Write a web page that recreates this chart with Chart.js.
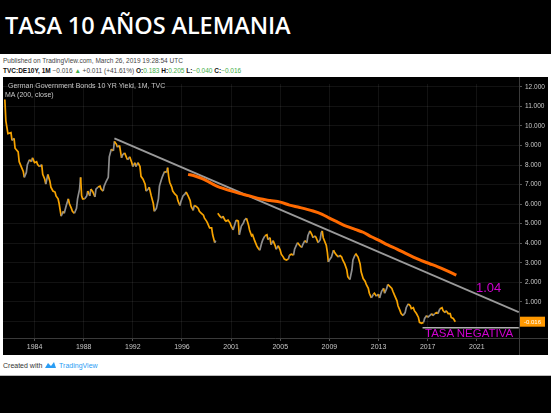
<!DOCTYPE html>
<html>
<head>
<meta charset="utf-8">
<script src="https://cdn.jsdelivr.net/npm/chart.js@4.4.1/dist/chart.umd.min.js"></script>
<style>
  html,body{margin:0;padding:0;background:#000;width:551px;height:413px;overflow:hidden;}
  .abs{position:absolute;white-space:nowrap;}
  #title{left:5px;top:9px;color:#fff;font-family:"Open Sans",sans-serif;font-size:23.5px;font-weight:600;letter-spacing:-0.1px;line-height:normal;}
  #panel{left:0;top:54px;width:551px;height:321px;background:#fff;border-bottom:1px solid #bbb;}
  .small{font-family:"Liberation Sans",Arial,sans-serif;font-size:6.5px;color:#444;}
  #box{left:3px;top:77px;width:545px;height:278px;background:#000;}
  .leg{font-family:"Liberation Sans",Arial,sans-serif;font-size:7px;color:#c8c8c8;}
  .mag{font-family:"Liberation Sans",Arial,sans-serif;color:#d000d0;}
  .g{color:#3fae49;}
  .b{color:#111;font-weight:bold;}
</style>
</head>
<body>
<div id="title" class="abs">TASA 10 AÑOS ALEMANIA</div>
<div id="panel" class="abs"></div>
<div class="abs small" style="left:3px;top:57px;">Published on TradingView.com, March 26, 2019 19:28:54 UTC</div>
<div class="abs small" style="left:3px;top:67px;"><span class="b">TVC:DE10Y, 1M</span> −0.016 <span class="g">▲</span> +0.011 (+41.61%) <span class="b">O:</span><span class="g">0.183</span> <span class="b">H:</span><span class="g">0.205</span> <span class="b">L:</span><span class="g">−0.040</span> <span class="b">C:</span><span class="g">−0.016</span></div>
<div id="box" class="abs"><canvas id="c" width="545" height="278"></canvas></div>
<div class="abs leg" style="left:8px;top:82px;">German Government Bonds 10 YR Yield, 1M, TVC</div>
<div class="abs leg" style="left:5px;top:91px;">MA (200, close)</div>
<div class="abs mag" style="left:476px;top:280px;font-size:13px;">1.04</div>
<div class="abs mag" style="left:425px;top:327px;font-size:11.5px;">TASA NEGATIVA</div>
<div class="abs small" style="left:3px;top:361px;font-size:7px;color:#333;">Created with <svg width="13" height="8" viewBox="0 0 13 8" style="vertical-align:-1px"><path d="M1 7 L4 2 L7 5 L10 1 L12 7 Z" fill="#2a9df4"/></svg> <span style="color:#2a9df4;">TradingView</span></div>
<script>
const tickMonths = [0,48,96,144,192,240,288,336,384,432];
const tickYears  = ['1984','1988','1992','1996','2001','2005','2009','2013','2017','2021'];
const priceTicks = [0,1,2,3,4,5,6,7,8,9,10,11,12];

const priceMonths = [-29,-28,-26,-23,-22,-20,-19,-16,-15,-13,-11,-10,-8,-7,-5,-3,-2,0,2,3,5,7,8,10,11,13,15,16,18,20,21,23,24,26,28,29,31,33,34,36,37,39,41,42,44,45,46,47,49,51,52,54,55,57,59,60,62,64,65,67,68,70,72,73,75,77,78,80,81,83,85,86,88,90,91,93,95,96,98,99,101,103,104,106,108,109,111,112,114,116,117,119,121,122,124,125,127,129,130,131,132,134,135,137,139,140,142,143,145,147,148,150,152,153,155,156,158,160,161,163,165,166,168,169,171,173,174,176,177,178,179,181,183,184,186,187,189,191,192,194,196,197,199,200,202,204,205,207,209,210,212,213,215,217,218,220,222,223,225,227,228,230,231,233,235,236,238,240,241,243,244,246,248,249,251,253,254,256,257,259,261,262,264,266,267,269,271,272,274,275,277,279,280,281,282,285,286,287,288,290,292,293,295,297,298,300,301,303,305,306,308,310,311,313,314,316,318,319,321,323,324,326,327,329,331,332,334,336,337,339,341,342,344,345,347,349,350,352,354,355,357,358,360,362,363,365,367,368,370,371,373,375,376,378,380,381,383,384,386,388,389,391,393,394,396,398,399,401,402,404,406,407,409,411];
const priceYields = [11.35,10.26,9.61,9.66,9.26,9.36,8.86,8.67,8.17,7.92,7.67,7.37,7.62,8.02,8.27,8.17,8.37,8.12,8.17,8.02,7.92,8.02,7.52,7.27,7.02,7.52,7.17,6.87,6.67,6.62,6.42,6.27,6.03,5.38,5.63,5.53,5.93,6.27,6.03,5.78,5.63,5.53,5.78,6.27,6.77,7.37,6.42,6.27,6.27,6.42,6.67,6.42,6.77,6.62,6.37,6.77,6.87,6.92,6.77,6.67,6.92,7.17,7.37,8.42,8.81,8.72,9.21,9.06,8.91,9.01,8.37,8.52,8.62,8.37,8.27,8.42,8.12,7.92,8.12,7.92,8.12,7.92,7.42,7.27,7.02,6.67,6.77,6.87,6.42,6.03,5.63,5.78,6.27,6.92,7.27,7.42,7.67,7.62,7.87,7.42,7.12,6.87,6.67,6.52,6.42,6.18,5.93,6.13,6.42,6.52,6.62,6.42,6.18,5.88,5.68,5.93,5.88,5.78,5.63,5.53,5.43,5.28,5.13,5.03,4.78,4.78,4.43,4.03,4.13,null,5.53,5.38,5.28,5.38,5.18,5.13,5.18,5.03,4.88,4.68,5.03,5.18,5.13,4.43,4.88,5.03,5.18,5.28,4.93,4.68,4.38,4.43,4.13,3.88,3.78,3.64,4.03,4.18,4.38,4.43,4.18,4.28,3.93,4.13,3.88,3.69,3.88,3.64,3.44,3.29,3.19,3.14,3.19,3.39,3.44,3.39,3.69,3.93,4.03,3.88,3.78,3.93,4.13,4.03,4.38,4.63,4.43,4.28,4.38,4.28,4.03,4.18,4.53,4.63,4.28,3.88,3.54,3.04,3.14,3.29,3.64,3.54,3.39,3.29,3.39,3.29,3.14,2.94,2.64,2.29,2.14,2.64,3.14,3.39,3.44,3.29,2.94,2.54,2.19,2.04,1.89,1.69,1.44,1.20,1.39,1.44,1.29,1.39,1.20,1.54,1.69,1.44,1.69,1.89,1.79,1.69,1.54,1.29,1.05,0.80,0.55,0.40,0.30,0.45,0.70,0.90,0.80,0.65,0.70,0.55,0.40,0.20,-0.05,-0.10,-0.05,0.15,0.30,0.20,0.30,0.40,0.30,0.40,0.45,0.40,0.65,0.70,0.55,0.45,0.55,0.40,0.40,0.20,0.15,-0.016];

const maMonths = [150,156,161,166,171,176,181,191,200,210,220,230,240,249,259,272,281,288,296,305,313,321,329,337,345,354,362,370,378,386,394,402,412];
const maValues = [7.52,7.45,7.36,7.25,7.11,6.97,6.86,6.69,6.55,6.42,6.27,6.18,6.10,5.95,5.83,5.65,5.48,5.28,5.08,4.86,4.71,4.56,4.33,4.13,3.91,3.70,3.49,3.29,3.11,2.95,2.79,2.61,2.37];

const trendMonths = [78,473];
const trendValues = [9.36,0.47];
const negMonths = [379,473];
const negValues = [-0.32,-0.32];
const lastLabel = '-0.016';

const pts = (xs, ys) => xs.map((x,i)=>({x, y: ys[i]}));

const frame = {
  id:'frame',
  afterDraw(chart){
    const {ctx, chartArea:a, width, height} = chart;
    ctx.save();
    ctx.strokeStyle = '#3a3a3a'; ctx.lineWidth = 1;
    ctx.beginPath();
    ctx.moveTo(0, Math.round(a.bottom)+0.5); ctx.lineTo(width, Math.round(a.bottom)+0.5);
    ctx.moveTo(Math.round(a.right)+0.5, 0); ctx.lineTo(Math.round(a.right)+0.5, height);
    ctx.stroke();
    const y = chart.scales.y.getPixelForValue(priceYields[priceYields.length-1]);
    ctx.fillStyle = '#ff9800';
    ctx.fillRect(a.right+1, y-5, 25, 10);
    ctx.fillStyle = '#fff';
    ctx.font = '6px "Liberation Sans", Arial, sans-serif';
    ctx.textAlign = 'center'; ctx.textBaseline = 'middle';
    ctx.fillText(lastLabel, a.right+13.5, y+0.5);
    ctx.restore();
  }
};

new Chart(document.getElementById('c'), {
  type:'line',
  data:{ datasets:[
    { data: pts(negMonths, negValues), borderColor:'#b0b0b0', borderWidth:1.5, pointRadius:0, order:4 },
    { data: pts(trendMonths, trendValues), borderColor:'#9a9a9a', borderWidth:2, pointRadius:0, order:3 },
    { data: pts(maMonths, maValues), borderColor:'#ff6a00', borderWidth:3, pointRadius:0, tension:0.3, order:2 },
    { data: pts(priceMonths, priceYields), borderColor:'#f7a300', borderWidth:1.7, pointRadius:0, spanGaps:false, order:1,
      segment:{ borderColor: c => (c.p1.parsed.y > c.p0.parsed.y + 0.05 ? '#8e8e8e' : '#f7a300') } }
  ]},
  options:{
    responsive:false, animation:false, devicePixelRatio:1,
    layout:{ padding:0 },
    plugins:{ legend:{display:false}, tooltip:{enabled:false} },
    scales:{
      x:{ type:'linear', position:'bottom', min:-30.8, max:473.2,
        afterBuildTicks: s => { s.ticks = tickMonths.map(v=>({value:v})); },
        afterFit: s => { s.height = 17; },
        ticks:{ autoSkip:false, maxRotation:0, padding:2, color:'#c8c8c8',
          font:{ family:'"Liberation Sans", Arial, sans-serif', size:7 },
          callback: v => tickYears[tickMonths.indexOf(v)] },
        grid:{ color:'rgba(255,255,255,0.07)', tickColor:'#555', tickLength:3 },
        border:{ display:false } },
      y:{ type:'linear', position:'right', min:-0.85, max:12.15,
        afterBuildTicks: s => { s.ticks = priceTicks.map(v=>({value:v})); },
        afterFit: s => { s.width = 29; },
        ticks:{ padding:3, color:'#c8c8c8',
          font:{ family:'"Liberation Sans", Arial, sans-serif', size:6.5 },
          callback: v => v.toFixed(3) },
        grid:{ color:'rgba(255,255,255,0.07)', tickColor:'#555', tickLength:3 },
        border:{ display:false } }
    }
  },
  plugins:[frame]
});
</script>
</body>
</html>
